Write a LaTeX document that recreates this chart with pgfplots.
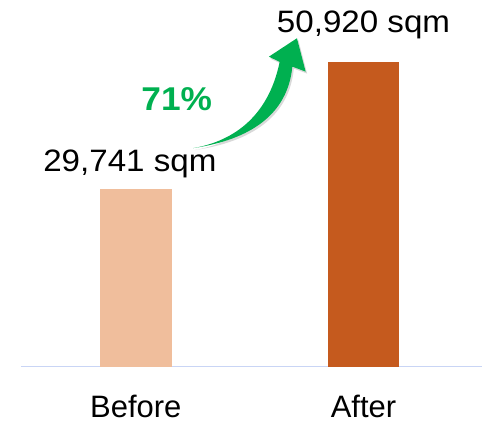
\documentclass[border=0pt]{standalone}
\usepackage{pgfplots}
\pgfplotsset{compat=1.18}
\usepackage{fontspec}
\setmainfont{Liberation Sans}
\newfontfamily\widefont{Liberation Sans}[FakeStretch=1.07]
\definecolor{beforec}{HTML}{F0BE9C}
\definecolor{afterc}{HTML}{C55A1E}
\definecolor{arrowg}{HTML}{00B050}
\definecolor{baseln}{HTML}{C9D5F5}
\begin{document}
\begin{tikzpicture}
\begin{scope}[x=1pt,y=-1pt]
\useasboundingbox (0,0) rectangle (483,423);
\end{scope}
\begin{axis}[
  at={(21pt,-367pt)}, anchor=south west,
  scale only axis, width=462pt, height=367pt,
  xmin=-0.504, xmax=1.522, ymin=0, ymax=61289,
  axis y line=none, axis x line*=bottom,
  x axis line style={draw=baseln, line width=1.2pt, -},
  xtick={0,1}, xticklabels={Before,After},
  major tick length=0pt,
  xticklabel style={anchor=base, yshift=-51pt, font=\fontsize{31}{36}\selectfont},
  ybar, bar width=72pt, bar shift=0pt,
  clip=false,
]
\addplot[fill=beforec, draw=none] coordinates {(0,29741)};
\addplot[fill=afterc, draw=none] coordinates {(1,50920)};
\node[anchor=base, font=\widefont\fontsize{31}{36}\selectfont, inner sep=0pt] at (axis cs:-0.026,32615) {29,741 sqm};
\node[anchor=base, font=\widefont\fontsize{31}{36}\selectfont, inner sep=0pt] at (axis cs:1.0,55895) {50,920 sqm};
\node[anchor=base, font=\widefont\fontsize{33}{38}\selectfont\bfseries, text=arrowg, inner sep=0pt] at (axis cs:0.18,42802) {71\%};
\end{axis}
\begin{scope}[x=1pt,y=-1pt]
\fill[black, opacity=0.15, shift={(1.5,2)}]
  (193.3,148.3) .. controls (230,142) and (268,120) .. (280,62)
  -- (269.3,56.7) -- (297.3,38.3) -- (306,71.7) -- (292.7,66.7)
  .. controls (288,115) and (250,140) .. (193.3,148.3) -- cycle;
\fill[arrowg]
  (193.3,148.3) .. controls (230,142) and (268,120) .. (280,62)
  -- (269.3,56.7) -- (297.3,38.3) -- (306,71.7) -- (292.7,66.7)
  .. controls (288,115) and (250,140) .. (193.3,148.3) -- cycle;
\end{scope}
\end{tikzpicture}
\end{document}
